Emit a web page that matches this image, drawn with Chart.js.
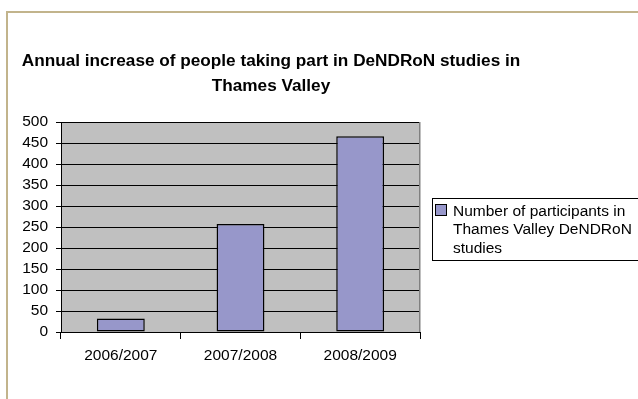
<!DOCTYPE html>
<html>
<head>
<meta charset="utf-8">
<script src="https://cdn.jsdelivr.net/npm/chart.js@4"></script>
<style>
  html, body { margin: 0; padding: 0; background: #ffffff; }
  #wrap { position: relative; width: 638px; height: 399px; overflow: hidden; }
  #frame { position: absolute; left: 6px; top: 11px; width: 700px; height: 500px;
           border-top: 2px solid #C2B48C; border-left: 2px solid #C2B48C; box-sizing: border-box; }
  canvas { position: absolute; left: 0; top: 0; }
</style>
</head>
<body>
<div id="wrap">
  <div id="frame"></div>
  <canvas id="c" width="638" height="399"></canvas>
</div>
<script>
const categories = ["2006/2007", "2007/2008", "2008/2009"];
const participants = [32, 257, 466];
const seriesLabel = ["Number of participants in", "Thames Valley DeNDRoN", "studies"];
const titleLines = ["Annual increase of people taking part in DeNDRoN studies in", "Thames Valley"];

const FONT = '"Liberation Sans", Arial, sans-serif';
const BAR_COLOR = '#9797CA';

const decorPlugin = {
  id: 'decor',
  beforeDraw(chart) {
    const { ctx, chartArea: a } = chart;
    ctx.save();
    ctx.fillStyle = '#C0C0C0';
    ctx.fillRect(a.left, a.top, a.right - a.left, a.bottom - a.top);
    ctx.restore();
  },
  beforeDatasetsDraw(chart) {
    const { ctx, chartArea: a } = chart;
    ctx.save();
    ctx.strokeStyle = '#808080';
    ctx.lineWidth = 1.5;
    ctx.beginPath();
    ctx.moveTo(Math.round(a.right) - 0.25, a.bottom);
    ctx.lineTo(Math.round(a.right) - 0.25, a.top);
    ctx.stroke();
    ctx.restore();
  },
  afterDraw(chart) {
    const { ctx } = chart;
    ctx.save();
    // Title
    ctx.fillStyle = '#000';
    ctx.font = 'bold 17.2px ' + FONT;
    ctx.textAlign = 'center';
    ctx.textBaseline = 'alphabetic';
    ctx.fillText(titleLines[0], 271, 66);
    ctx.fillText(titleLines[1], 271, 90.5);
    // Legend
    const ds = chart.data.datasets[0];
    ctx.strokeStyle = '#000';
    ctx.lineWidth = 1;
    ctx.strokeRect(432.5, 198.5, 230, 62);
    ctx.fillStyle = ds.backgroundColor;
    ctx.fillRect(435, 204, 12, 12);
    ctx.strokeRect(435.5, 204.5, 11, 11);
    ctx.fillStyle = '#000';
    ctx.font = '15.5px ' + FONT;
    ctx.textAlign = 'left';
    const lines = ds.labelLines;
    for (let i = 0; i < lines.length; i++) {
      ctx.fillText(lines[i], 453, 215.5 + i * 18.5);
    }
    ctx.restore();
  }
};

new Chart(document.getElementById('c'), {
  type: 'bar',
  data: {
    labels: categories,
    datasets: [{
      label: seriesLabel.join(' '),
      labelLines: seriesLabel,
      data: participants,
      backgroundColor: BAR_COLOR,
      borderColor: '#000',
      borderWidth: 1.5,
      borderSkipped: false,
      barPercentage: 0.4,
      categoryPercentage: 1.0
    }]
  },
  options: {
    responsive: false,
    devicePixelRatio: 1,
    animation: false,
    layout: { padding: { left: 0, top: 122, right: 218, bottom: 0 } },
    plugins: {
      legend: { display: false },
      title: { display: false },
      tooltip: { enabled: false }
    },
    scales: {
      y: {
        min: 0, max: 500,
        afterFit(scale) { scale.width = 61; },
        ticks: { stepSize: 50, autoSkip: false, color: '#000', font: { family: FONT, size: 15.5 }, padding: 8 },
        grid: { color: '#000', lineWidth: 1, tickLength: 5, drawTicks: true },
        border: { display: true, color: '#000', width: 1 }
      },
      x: {
        afterFit(scale) { scale.height = 67; },
        ticks: { color: '#000', font: { family: FONT, size: 15.5 }, padding: 7, maxRotation: 0 },
        grid: { drawOnChartArea: false, drawTicks: true, tickLength: 7, color: '#000', offset: true },
        border: { display: true, color: '#000', width: 1 }
      }
    }
  },
  plugins: [decorPlugin]
});
</script>
</body>
</html>
